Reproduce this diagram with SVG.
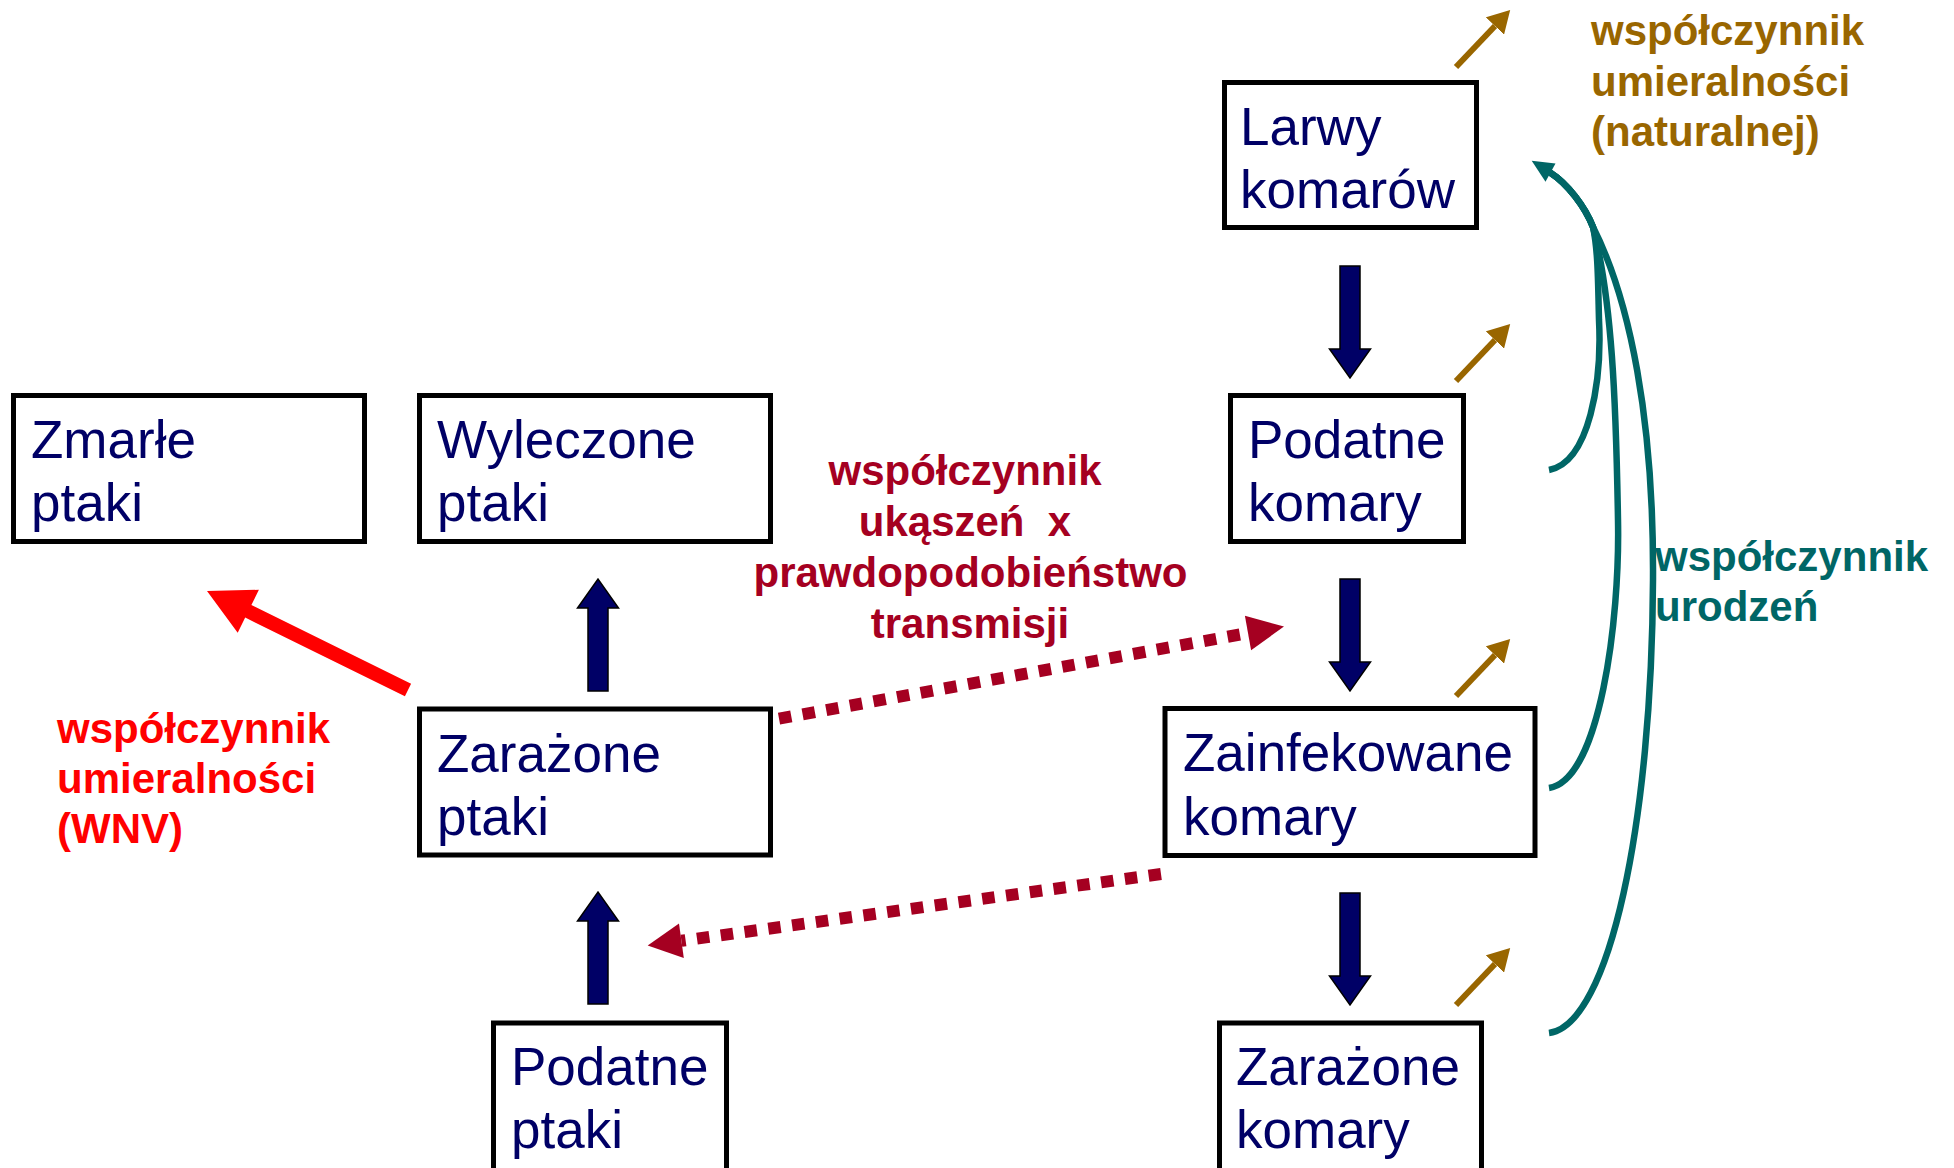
<svg xmlns="http://www.w3.org/2000/svg" width="1954" height="1168" viewBox="0 0 1954 1168">
<style>
.box rect{fill:#fff;stroke:#000;stroke-width:5}
.nt{font-family:"Liberation Sans",Arial,sans-serif;font-size:53px;fill:#000066}
.lbl{font-family:"Liberation Sans",Arial,sans-serif;font-size:42px;font-weight:bold}
.blk{fill:#000066;stroke:#000;stroke-width:1.5}
.dot{fill:none;stroke:#A50021;stroke-width:12;stroke-dasharray:12.5 11.5}
.teal{fill:none;stroke:#006666;stroke-width:6.5}
.orl{stroke:#996600;stroke-width:6}
</style>
<defs>
<path id="ba" d="M-10,0 H10 V83 H20.5 L0,112 L-20.5,83 H-10 Z"/>
<marker id="oh" markerUnits="userSpaceOnUse" markerWidth="22" markerHeight="25" viewBox="0 0 22 25" refX="0" refY="12.5" orient="auto">
<path d="M0,0 L22,12.5 L0,25 Z" fill="#996600"/>
</marker>
</defs>
<rect width="1954" height="1168" fill="#fff"/>

<g id="connectors">
<use href="#ba" class="blk" transform="translate(1350,266)"/>
<use href="#ba" class="blk" transform="translate(1350,579)"/>
<use href="#ba" class="blk" transform="translate(1350,893)"/>
<use href="#ba" class="blk" transform="translate(598,691) rotate(180)"/>
<use href="#ba" class="blk" transform="translate(598,1004) rotate(180)"/>
<polygon fill="#FF0000" points="411.1,683.7 251.4,605 258.9,589.8 207,591 237.7,632.8 245.2,617.6 404.9,696.3"/>
<path class="dot" d="M779,718.7 L1248,633"/>
<polygon fill="#A50021" points="1284,626.5 1244.9,615.8 1251.1,650.2"/>
<path class="dot" d="M1161,874 L681.4,940.8"/>
<polygon fill="#A50021" points="647.7,945.5 679,923.5 683.8,958.1"/>
<line class="orl" x1="1456" y1="67" x2="1495" y2="26" marker-end="url(#oh)"/>
<line class="orl" x1="1456" y1="381" x2="1495" y2="340" marker-end="url(#oh)"/>
<line class="orl" x1="1456" y1="696" x2="1495" y2="655" marker-end="url(#oh)"/>
<line class="orl" x1="1456" y1="1005" x2="1495" y2="964" marker-end="url(#oh)"/>
<path class="teal" d="M1549,470 C1590,462 1602,380 1599,320 C1598,280 1598,250 1593,227 C1585,207 1568,184 1550,172.5"/>
<path class="teal" d="M1549,788 C1600,780 1620,620 1618,520 C1616,400 1612,300 1593,227 C1585,207 1568,184 1550,172.5"/>
<path class="teal" d="M1549,1033 C1610,1025 1652,820 1653,580 C1654,420 1630,300 1593,227 C1585,207 1568,184 1550,172.5"/>
<polygon fill="#006666" points="1531.7,160.7 1555.5,163.5 1545.5,181.7"/>
</g>

<g id="n-zmarle" class="box"><rect x="13.5" y="395.5" width="351" height="146"/>
<text class="nt" x="31" y="458">Zmarłe</text><text class="nt" x="31" y="521">ptaki</text></g>
<g id="n-wyleczone" class="box"><rect x="419.5" y="395.5" width="351" height="146"/>
<text class="nt" x="437" y="458">Wyleczone</text><text class="nt" x="437" y="521">ptaki</text></g>
<g id="n-zarazone-ptaki" class="box"><rect x="419.5" y="709" width="351" height="146"/>
<text class="nt" x="437" y="772">Zarażone</text><text class="nt" x="437" y="835">ptaki</text></g>
<g id="n-podatne-ptaki" class="box"><rect x="493.5" y="1023" width="233" height="170"/>
<text class="nt" x="511" y="1085">Podatne</text><text class="nt" x="511" y="1148">ptaki</text></g>
<g id="n-larwy" class="box"><rect x="1224.5" y="82.5" width="252" height="145"/>
<text class="nt" x="1240" y="145">Larwy</text><text class="nt" x="1240" y="208">komarów</text></g>
<g id="n-podatne-komary" class="box"><rect x="1230.5" y="395.5" width="233" height="146"/>
<text class="nt" x="1248" y="458">Podatne</text><text class="nt" x="1248" y="521">komary</text></g>
<g id="n-zainfekowane" class="box"><rect x="1165" y="708.5" width="370" height="147"/>
<text class="nt" x="1183" y="771">Zainfekowane</text><text class="nt" x="1183" y="835">komary</text></g>
<g id="n-zarazone-komary" class="box"><rect x="1219.5" y="1023" width="262" height="170"/>
<text class="nt" x="1236" y="1085">Zarażone</text><text class="nt" x="1236" y="1148">komary</text></g>

<g id="labels">
<g class="lbl" fill="#996600"><text x="1591" y="45">współczynnik</text><text x="1591" y="96">umieralności</text><text x="1591" y="146">(naturalnej)</text></g>
<g class="lbl" fill="#006666"><text x="1655" y="571">współczynnik</text><text x="1655" y="621">urodzeń</text></g>
<g class="lbl" fill="#FF0000"><text x="57" y="743">współczynnik</text><text x="57" y="793">umieralności</text><text x="57" y="843">(WNV)</text></g>
<g class="lbl" fill="#A50021" text-anchor="middle"><text x="965" y="485">współczynnik</text><text x="965" y="536" xml:space="preserve" style="white-space:pre">ukąszeń  x</text><text x="970.5" y="587">prawdopodobieństwo</text><text x="970" y="638">transmisji</text></g>
</g>
</svg>
